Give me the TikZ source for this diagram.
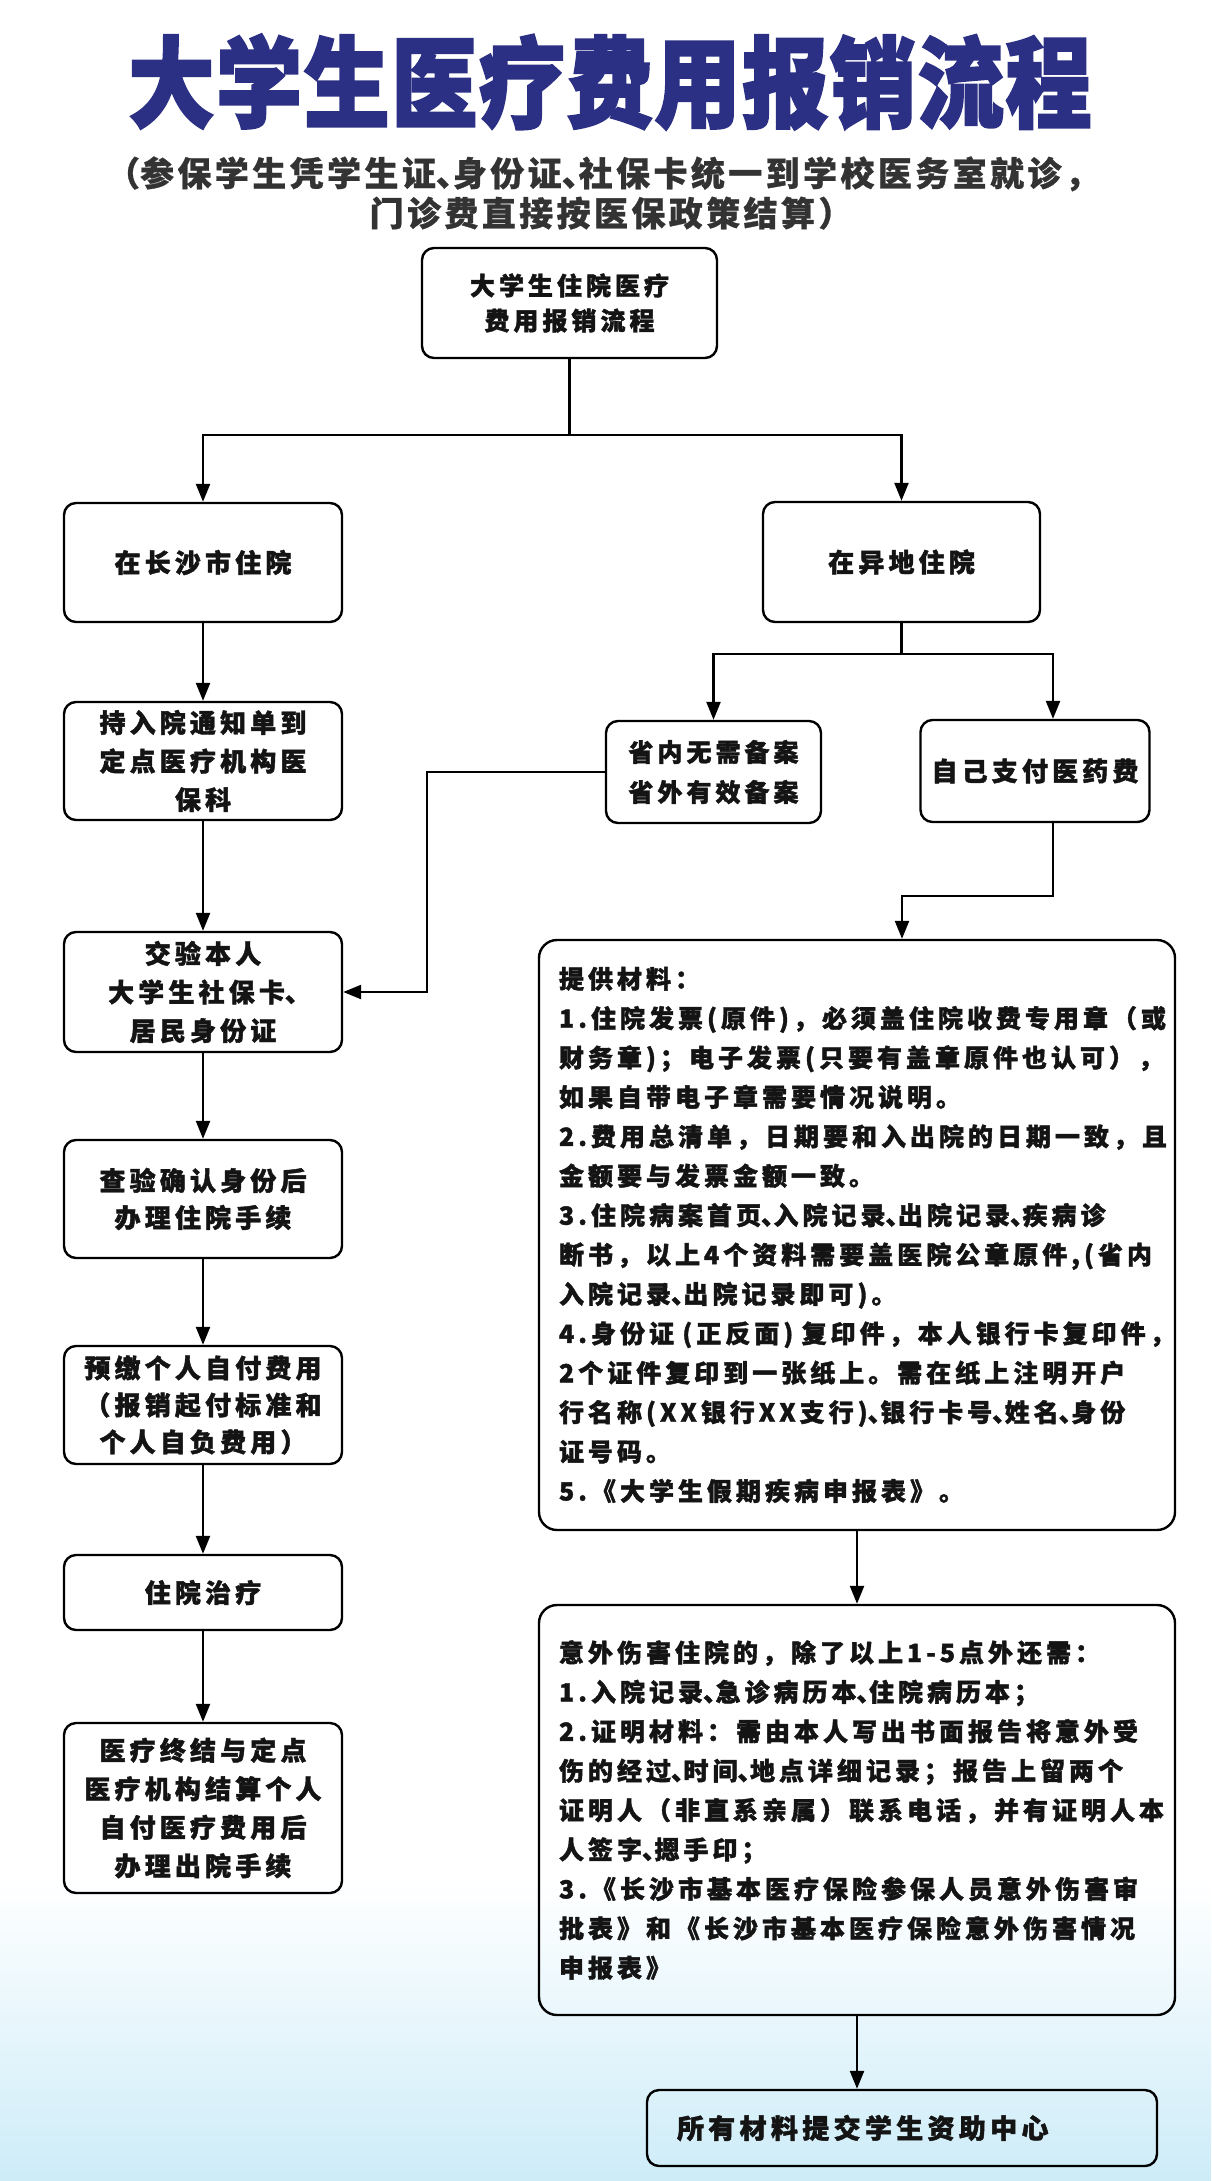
\documentclass[tikz,border=0pt]{standalone}
\usepackage{fontspec}
\newfontfamily\cjk{Noto Sans CJK SC}[LetterSpace=16, BoldFeatures={FakeBold=1.6}]
\newfontfamily\cjkt{Noto Sans CJK SC}[LetterSpace=2, BoldFeatures={FakeBold=2.5}]
\newfontfamily\cjks{Noto Sans CJK SC}[LetterSpace=10, BoldFeatures={FakeBold=0.8}]
\newcommand\hw[1]{{\addfontfeature{RawFeature=+halt}#1}}
\usetikzlibrary{arrows.meta}
\definecolor{titleblue}{RGB}{44,48,132}
\definecolor{bgblue}{RGB}{205,236,248}
\begin{document}
\begin{tikzpicture}[x=1pt,y=-1pt,
  box/.style={draw=black, line width=2.4pt, rounded corners=12pt, inner sep=0pt, align=center, text=black!92, font=\cjk\bfseries\fontsize{26}{38.5}\selectfont},
  bigbox/.style={box, rounded corners=18pt, align=left, text width=596pt, inner xsep=20pt, font=\cjk\bfseries\fontsize{25}{39.4}\selectfont},
  conn/.style={line width=2.4pt},
  arr/.style={conn, -{Triangle[length=18pt,width=14pt]}},
]
\useasboundingbox (0,0) rectangle (1211,2181);
\fill[white] (0,0) rectangle (1211,2181);
\shade[top color=white, bottom color=bgblue] (0,1880) rectangle (1211,2181);

\node[font=\cjkt\bfseries\fontsize{86}{90}\selectfont, text=titleblue, inner sep=0pt] (title) at (610,82) {\scalebox{1}[1.15]{大学生医疗费用报销流程}};
\node[font=\cjks\bfseries\fontsize{34}{40}\selectfont, text=black!80, align=center, inner sep=0pt] (sub) at (611,193) {\hw{（}参保学生凭学生证\hw{、}身份证\hw{、}社保卡统一到学校医务室就诊，\\门诊费直接按医保政策结算）};

\node[box, minimum width=295pt, minimum height=110pt, font=\cjk\bfseries\fontsize{25}{35}\selectfont] (A) at (569.5,303) {大学生住院医疗\\费用报销流程};
\node[box, minimum width=278pt, minimum height=119pt] (B) at (203,562.5) {在长沙市住院};
\node[box, minimum width=277pt, minimum height=120pt] (C) at (901.5,562) {在异地住院};
\node[box, minimum width=278pt, minimum height=118pt] (G) at (203,761) {持入院通知单到\\定点医疗机构医\\保科};
\node[box, minimum width=215pt, minimum height=102pt, font=\cjk\bfseries\fontsize{25}{40}\selectfont] (D) at (713.5,772) {省内无需备案\\省外有效备案};
\node[box, minimum width=229pt, minimum height=102pt] (E) at (1035,771) {自己支付医药费};
\node[box, minimum width=278pt, minimum height=120pt] (F) at (203,992) {交验本人\\大学生社保卡\hw{、}\\居民身份证};
\node[box, minimum width=278pt, minimum height=118pt, font=\cjk\bfseries\fontsize{26}{37}\selectfont] (H) at (203,1199) {查验确认身份后\\办理住院手续};
\node[box, minimum width=278pt, minimum height=118pt, font=\cjk\bfseries\fontsize{26}{37}\selectfont] (I) at (203,1405) {预缴个人自付费用\\（报销起付标准和\\个人自负费用）};
\node[box, minimum width=278pt, minimum height=75pt] (J) at (203,1592.5) {住院治疗};
\node[box, minimum width=278pt, minimum height=170pt] (K) at (203,1808) {医疗终结与定点\\医疗机构结算个人\\自付医疗费用后\\办理出院手续};

\node[bigbox, minimum height=590pt] (L) at (857,1235) {提供材料：\\
1.住院发票(原件)，必须盖住院收费专用章（或\\
财务章)；电子发票(只要有盖章原件也认可），\\
如果自带电子章需要情况说明。\\
2.费用总清单，日期要和入出院的日期一致，且\\
金额要与发票金额一致。\\
3.住院病案首页\hw{、}入院记录\hw{、}出院记录\hw{、}疾病诊\\
断书，以上4个资料需要盖医院公章原件,(省内\\
入院记录\hw{、}出院记录即可)。\\
4.身份证 (正反面) 复印件，本人银行卡复印件，\\
2个证件复印到一张纸上。需在纸上注明开户\\
行名称(XX银行XX支行)\hw{、}银行卡号\hw{、}姓名\hw{、}身份\\
证号码。\\
5.《大学生假期疾病申报表》。};

\node[bigbox, minimum height=410pt] (M) at (857,1810) {意外伤害住院的，除了以上1-5点外还需：\\
1.入院记录\hw{、}急诊病历本\hw{、}住院病历本；\\
2.证明材料：需由本人写出书面报告将意外受\\
伤的经过\hw{、}时间\hw{、}地点详细记录；报告上留两个\\
证明人（非直系亲属）联系电话，并有证明人本\\
人签字\hw{、}摁手印；\\
3.《长沙市基本医疗保险参保人员意外伤害审\\
批表》和《长沙市基本医疗保险意外伤害情况\\
申报表》};

\node[box, minimum width=510pt, minimum height=76pt, align=left, text width=450pt, inner xsep=30pt, font=\cjk\bfseries\fontsize{27}{30}\selectfont] (N) at (902,2128) {所有材料提交学生资助中心};

% connectors
\path (A.south) ++(0,76) coordinate (j1);
\draw[conn] (A.south) -- (j1);
\draw[arr] (j1) -| (B.north);
\draw[arr] (j1) -| (C.north);
\draw[arr] (B) -- (G);
\draw[arr] (G) -- (F);
\draw[arr] (F) -- (H);
\draw[arr] (H) -- (I);
\draw[arr] (I) -- (J);
\draw[arr] (J) -- (K);

\path (C.south) ++(0,31) coordinate (j2);
\coordinate (Ex) at (1053,0);
\draw[conn] (C.south) -- (j2);
\draw[arr] (j2) -| (D.north);
\draw[arr] (j2) -| (E.north -| Ex);

\coordinate (m1) at (427,0);
\draw[arr] (D.west) -| (m1 |- F.east) -- (F.east);

\coordinate (k1) at (902,896);
\draw[arr] (E.south -| Ex) |- (k1) -- (k1 |- L.north);

\draw[arr] (L) -- (M);
\draw[arr] (M.south) -- (M.south |- N.north);
\end{tikzpicture}
\end{document}
